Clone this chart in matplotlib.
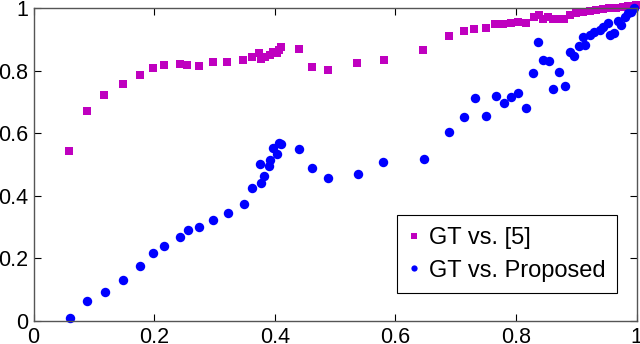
import matplotlib
matplotlib.use('Agg')
import matplotlib.pyplot as plt
from matplotlib.lines import Line2D

plt.rcParams['font.family'] = ['Liberation Sans', 'DejaVu Sans']

# GT vs. [5]
x_ref = [0.059, 0.088, 0.117, 0.149, 0.177, 0.198, 0.217, 0.243, 0.255, 0.275,
         0.298, 0.321, 0.348, 0.363, 0.373, 0.377, 0.383, 0.392, 0.397, 0.403,
         0.407, 0.410, 0.440, 0.461, 0.489, 0.537, 0.581, 0.646, 0.689, 0.713,
         0.731, 0.751, 0.765, 0.779, 0.792, 0.804, 0.816, 0.830, 0.838, 0.844,
         0.853, 0.861, 0.872, 0.880, 0.889, 0.900, 0.911, 0.922, 0.933, 0.944,
         0.955, 0.966, 0.977, 0.985, 0.994, 0.999]
y_ref = [0.543, 0.672, 0.721, 0.756, 0.785, 0.809, 0.817, 0.821, 0.817, 0.816,
         0.827, 0.827, 0.835, 0.842, 0.857, 0.836, 0.844, 0.850, 0.860, 0.855,
         0.866, 0.876, 0.868, 0.810, 0.803, 0.823, 0.835, 0.865, 0.912, 0.927,
         0.932, 0.935, 0.949, 0.950, 0.952, 0.955, 0.951, 0.971, 0.979, 0.966,
         0.970, 0.965, 0.966, 0.966, 0.978, 0.983, 0.986, 0.990, 0.994, 0.996,
         0.999, 1.000, 1.002, 1.005, 1.008, 1.010]

# GT vs. Proposed
x_prop = [0.060, 0.089, 0.118, 0.149, 0.177, 0.198, 0.217, 0.243, 0.256, 0.275,
          0.297, 0.322, 0.349, 0.363, 0.377, 0.382, 0.375, 0.390, 0.392, 0.397,
          0.403, 0.407, 0.410, 0.440, 0.461, 0.489, 0.538, 0.580, 0.647, 0.689,
          0.713, 0.732, 0.751, 0.766, 0.780, 0.792, 0.804, 0.816, 0.829, 0.837,
          0.844, 0.854, 0.862, 0.871, 0.881, 0.889, 0.897, 0.904, 0.915, 0.911,
          0.922, 0.930, 0.939, 0.945, 0.952, 0.956, 0.962, 0.969, 0.974, 0.980,
          0.985, 0.991, 0.996]
y_prop = [0.011, 0.065, 0.093, 0.131, 0.175, 0.216, 0.241, 0.269, 0.290, 0.300,
          0.323, 0.344, 0.374, 0.426, 0.441, 0.463, 0.503, 0.495, 0.515, 0.552,
          0.535, 0.568, 0.565, 0.549, 0.488, 0.457, 0.471, 0.509, 0.517, 0.603,
          0.653, 0.713, 0.656, 0.718, 0.695, 0.715, 0.729, 0.679, 0.791, 0.890,
          0.834, 0.830, 0.742, 0.796, 0.750, 0.858, 0.847, 0.880, 0.883, 0.908,
          0.914, 0.924, 0.930, 0.940, 0.951, 0.914, 0.921, 0.958, 0.947, 0.972,
          0.983, 0.988, 0.999]

ticks = [0, 0.2, 0.4, 0.6, 0.8, 1]
tick_labels = ['0', '0.2', '0.4', '0.6', '0.8', '1']

fig = plt.figure(figsize=(6.4, 3.44), dpi=100)
ax = fig.add_axes([0.0525, 0.0669, 0.9422, 0.9098])

ax.plot(x_ref, y_ref, 's', color='#BF00BF', markersize=5.2, markeredgewidth=0,
        clip_on=False)
ax.plot(x_prop, y_prop, 'o', color='#0000FF', markersize=6.8, markeredgewidth=0,
        clip_on=False)

ax.set_xlim(0, 1)
ax.set_ylim(0, 1)
ax.set_xticks(ticks)
ax.set_xticklabels(tick_labels)
ax.set_yticks(ticks)
ax.set_yticklabels(tick_labels)
ax.tick_params(direction='in', top=True, right=True, length=5, width=0.8,
               labelsize=15.5, pad=4)
for s in ax.spines.values():
    s.set_color('#555555')
    s.set_linewidth(1.0)

handles = [Line2D([], [], linestyle='none', marker='s', color='#BF00BF',
                  markersize=4, markeredgewidth=0),
           Line2D([], [], linestyle='none', marker='o', color='#0000FF',
                  markersize=4.5, markeredgewidth=0)]
leg = ax.legend(handles, ['GT vs. [5]', 'GT vs. Proposed'], loc='lower right',
                bbox_to_anchor=(0.968, 0.088), fontsize=17, fancybox=False,
                framealpha=1, handlelength=0.4, handletextpad=0.45,
                borderpad=0.5, labelspacing=0.45, borderaxespad=0)
leg.get_frame().set_edgecolor('black')
leg.get_frame().set_linewidth(0.8)

fig.savefig('out.png', dpi=100)
